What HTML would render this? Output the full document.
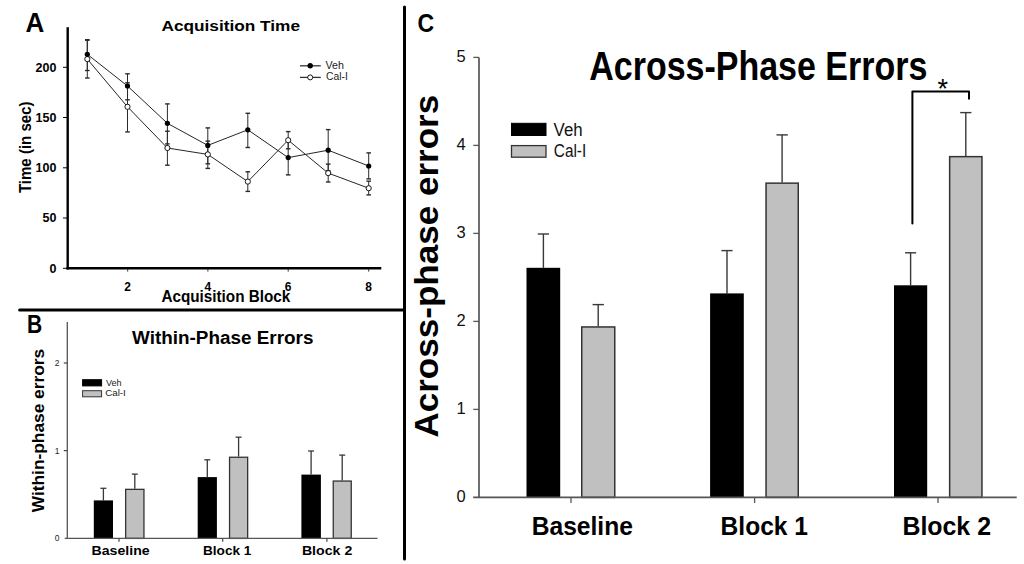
<!DOCTYPE html>
<html><head><meta charset="utf-8">
<style>
html,body{margin:0;padding:0;background:#fff;width:1024px;height:564px;overflow:hidden}
svg{display:block}
text{font-family:"Liberation Sans",sans-serif}
.b{font-weight:bold}
</style></head><body>
<svg width="1024" height="564" viewBox="0 0 1024 564">
<rect width="1024" height="564" fill="#fff"/>
<!-- dividers -->
<line x1="404.5" y1="7" x2="404.5" y2="559" stroke="#000" stroke-width="3" stroke-linecap="round"/>
<line x1="19.6" y1="310.1" x2="404" y2="310.1" stroke="#000" stroke-width="3" stroke-linecap="round"/>

<!-- ============ PANEL A ============ -->
<text x="25.4" y="31.8" class="b" font-size="27.5" textLength="18.8" lengthAdjust="spacingAndGlyphs">A</text>
<text x="161.5" y="30.8" class="b" font-size="14" textLength="138.5" lengthAdjust="spacingAndGlyphs">Acquisition Time</text>
<!-- axes -->
<line x1="67.7" y1="27.2" x2="67.7" y2="269.5" stroke="#000" stroke-width="2.4"/>
<line x1="66.5" y1="268.3" x2="381.3" y2="268.3" stroke="#000" stroke-width="2.4"/>
<g stroke="#000" stroke-width="1">
<line x1="63" y1="268.3" x2="67" y2="268.3"/>
<line x1="63" y1="218" x2="67" y2="218"/>
<line x1="63" y1="167.8" x2="67" y2="167.8"/>
<line x1="63" y1="117.5" x2="67" y2="117.5"/>
<line x1="63" y1="67.3" x2="67" y2="67.3"/>
<line x1="127.7" y1="269" x2="127.7" y2="271.6" stroke="#333"/>
<line x1="207.9" y1="269" x2="207.9" y2="271.6" stroke="#333"/>
<line x1="288.2" y1="269" x2="288.2" y2="271.6" stroke="#333"/>
<line x1="368.7" y1="269" x2="368.7" y2="271.6" stroke="#333"/>
</g>
<g class="b" font-size="12.5" text-anchor="end">
<text x="56.4" y="272.6">0</text>
<text x="56.4" y="222.3">50</text>
<text x="56.4" y="172.1">100</text>
<text x="56.4" y="121.8">150</text>
<text x="56.4" y="71.6">200</text>
</g>
<g class="b" font-size="12" text-anchor="middle">
<text x="127.7" y="290.8">2</text>
<text x="207.9" y="290.8">4</text>
<text x="288.2" y="290.8">6</text>
<text x="368.7" y="290.8">8</text>
</g>
<text x="161.4" y="301.8" class="b" font-size="16" textLength="128.9" lengthAdjust="spacingAndGlyphs">Acquisition Block</text>
<text transform="translate(30.7,193.1) rotate(-90)" class="b" font-size="16" textLength="91.6" lengthAdjust="spacingAndGlyphs">Time (in sec)</text>
<!-- error bars A -->
<g stroke="#2a2a2a" stroke-width="1" fill="none">
<line x1="87.3" y1="39.7" x2="87.3" y2="70.5"/>
<line x1="85.0" y1="39.7" x2="89.6" y2="39.7" stroke-width="1.4"/>
<line x1="85.0" y1="70.5" x2="89.6" y2="70.5" stroke-width="1.4"/>
<line x1="87.3" y1="40.2" x2="87.3" y2="78.0"/>
<line x1="85.0" y1="40.2" x2="89.6" y2="40.2" stroke-width="1.4"/>
<line x1="85.0" y1="78.0" x2="89.6" y2="78.0" stroke-width="1.4"/>
<line x1="127.5" y1="73.8" x2="127.5" y2="99.8"/>
<line x1="125.2" y1="73.8" x2="129.8" y2="73.8" stroke-width="1.4"/>
<line x1="125.2" y1="99.8" x2="129.8" y2="99.8" stroke-width="1.4"/>
<line x1="127.5" y1="82.8" x2="127.5" y2="131.9"/>
<line x1="125.2" y1="82.8" x2="129.8" y2="82.8" stroke-width="1.4"/>
<line x1="125.2" y1="131.9" x2="129.8" y2="131.9" stroke-width="1.4"/>
<line x1="167.4" y1="103.9" x2="167.4" y2="143.9"/>
<line x1="165.1" y1="103.9" x2="169.7" y2="103.9" stroke-width="1.4"/>
<line x1="165.1" y1="143.9" x2="169.7" y2="143.9" stroke-width="1.4"/>
<line x1="167.4" y1="131.2" x2="167.4" y2="165.2"/>
<line x1="165.1" y1="131.2" x2="169.7" y2="131.2" stroke-width="1.4"/>
<line x1="165.1" y1="165.2" x2="169.7" y2="165.2" stroke-width="1.4"/>
<line x1="207.8" y1="127.9" x2="207.8" y2="163.8"/>
<line x1="205.5" y1="127.9" x2="210.1" y2="127.9" stroke-width="1.4"/>
<line x1="205.5" y1="163.8" x2="210.1" y2="163.8" stroke-width="1.4"/>
<line x1="207.8" y1="141.1" x2="207.8" y2="168.4"/>
<line x1="205.5" y1="141.1" x2="210.1" y2="141.1" stroke-width="1.4"/>
<line x1="205.5" y1="168.4" x2="210.1" y2="168.4" stroke-width="1.4"/>
<line x1="247.8" y1="113.3" x2="247.8" y2="147.5"/>
<line x1="245.5" y1="113.3" x2="250.1" y2="113.3" stroke-width="1.4"/>
<line x1="245.5" y1="147.5" x2="250.1" y2="147.5" stroke-width="1.4"/>
<line x1="247.8" y1="171.8" x2="247.8" y2="191.4"/>
<line x1="245.5" y1="171.8" x2="250.1" y2="171.8" stroke-width="1.4"/>
<line x1="245.5" y1="191.4" x2="250.1" y2="191.4" stroke-width="1.4"/>
<line x1="288.2" y1="140.3" x2="288.2" y2="174.9"/>
<line x1="285.9" y1="140.3" x2="290.5" y2="140.3" stroke-width="1.4"/>
<line x1="285.9" y1="174.9" x2="290.5" y2="174.9" stroke-width="1.4"/>
<line x1="288.2" y1="131.6" x2="288.2" y2="148.8"/>
<line x1="285.9" y1="131.6" x2="290.5" y2="131.6" stroke-width="1.4"/>
<line x1="285.9" y1="148.8" x2="290.5" y2="148.8" stroke-width="1.4"/>
<line x1="328.2" y1="129.6" x2="328.2" y2="170.8"/>
<line x1="325.9" y1="129.6" x2="330.5" y2="129.6" stroke-width="1.4"/>
<line x1="325.9" y1="170.8" x2="330.5" y2="170.8" stroke-width="1.4"/>
<line x1="328.2" y1="164.1" x2="328.2" y2="182.0"/>
<line x1="325.9" y1="164.1" x2="330.5" y2="164.1" stroke-width="1.4"/>
<line x1="325.9" y1="182.0" x2="330.5" y2="182.0" stroke-width="1.4"/>
<line x1="368.7" y1="152.9" x2="368.7" y2="178.9"/>
<line x1="366.4" y1="152.9" x2="371.0" y2="152.9" stroke-width="1.4"/>
<line x1="366.4" y1="178.9" x2="371.0" y2="178.9" stroke-width="1.4"/>
<line x1="368.7" y1="181.2" x2="368.7" y2="194.9"/>
<line x1="366.4" y1="181.2" x2="371.0" y2="181.2" stroke-width="1.4"/>
<line x1="366.4" y1="194.9" x2="371.0" y2="194.9" stroke-width="1.4"/>
</g>
<!-- lines A -->
<polyline points="87.3,54.3 127.5,86.0 167.4,123.3 207.8,145.4 247.8,129.8 288.2,157.6 328.2,150.2 368.7,166.0" fill="none" stroke="#262626" stroke-width="1"/>
<polyline points="87.3,59.1 127.5,106.8 167.4,148.0 207.8,154.4 247.8,181.6 288.2,140.2 328.2,173.1 368.7,188.2" fill="none" stroke="#262626" stroke-width="1"/>
<g>
<circle cx="87.3" cy="59.1" r="2.6" fill="#fff" stroke="#000" stroke-width="0.9"/>
<circle cx="127.5" cy="106.8" r="2.6" fill="#fff" stroke="#000" stroke-width="0.9"/>
<circle cx="167.4" cy="148.0" r="2.6" fill="#fff" stroke="#000" stroke-width="0.9"/>
<circle cx="207.8" cy="154.4" r="2.6" fill="#fff" stroke="#000" stroke-width="0.9"/>
<circle cx="247.8" cy="181.6" r="2.6" fill="#fff" stroke="#000" stroke-width="0.9"/>
<circle cx="288.2" cy="140.2" r="2.6" fill="#fff" stroke="#000" stroke-width="0.9"/>
<circle cx="328.2" cy="173.1" r="2.6" fill="#fff" stroke="#000" stroke-width="0.9"/>
<circle cx="368.7" cy="188.2" r="2.6" fill="#fff" stroke="#000" stroke-width="0.9"/>
<circle cx="87.3" cy="54.3" r="2.6" fill="#000"/>
<circle cx="127.5" cy="86.0" r="2.6" fill="#000"/>
<circle cx="167.4" cy="123.3" r="2.6" fill="#000"/>
<circle cx="207.8" cy="145.4" r="2.6" fill="#000"/>
<circle cx="247.8" cy="129.8" r="2.6" fill="#000"/>
<circle cx="288.2" cy="157.6" r="2.6" fill="#000"/>
<circle cx="328.2" cy="150.2" r="2.6" fill="#000"/>
<circle cx="368.7" cy="166.0" r="2.6" fill="#000"/>
</g>
<!-- legend A -->
<line x1="300" y1="65.8" x2="320.8" y2="65.8" stroke="#333" stroke-width="1.3"/>
<line x1="300" y1="77.4" x2="320.8" y2="77.4" stroke="#333" stroke-width="1.3"/>
<circle cx="310.2" cy="65.8" r="2.7" fill="#000"/>
<circle cx="310.2" cy="77.4" r="2.5" fill="#fff" stroke="#000" stroke-width="0.9"/>
<text x="325.5" y="68.9" font-size="10" textLength="18.4" lengthAdjust="spacingAndGlyphs" fill="#222">Veh</text>
<text x="326" y="80.4" font-size="10" textLength="21.8" lengthAdjust="spacingAndGlyphs" fill="#222">Cal-I</text>

<!-- ============ PANEL B ============ -->
<text x="26.9" y="332.9" class="b" font-size="26" textLength="15.2" lengthAdjust="spacingAndGlyphs">B</text>
<text x="132.1" y="343.8" class="b" font-size="18" textLength="181.3" lengthAdjust="spacingAndGlyphs">Within-Phase Errors</text>
<text transform="translate(43.6,512.3) rotate(-90)" class="b" font-size="16" textLength="163.5" lengthAdjust="spacingAndGlyphs">Within-phase errors</text>
<g>
<line x1="103.4" y1="488.3" x2="103.4" y2="500.4" stroke="#383838" stroke-width="1.3"/>
<line x1="100.4" y1="488.3" x2="106.4" y2="488.3" stroke="#383838" stroke-width="1.3"/>
<rect x="93.8" y="500.4" width="19.2" height="38.0" fill="#000"/>
<line x1="134.8" y1="474.1" x2="134.8" y2="488.7" stroke="#383838" stroke-width="1.3"/>
<line x1="131.8" y1="474.1" x2="137.8" y2="474.1" stroke="#383838" stroke-width="1.3"/>
<rect x="125.65" y="489.35" width="18.30" height="49.05" fill="#c0c0c0" stroke="#333" stroke-width="1.3"/>
<line x1="207.3" y1="459.8" x2="207.3" y2="477.1" stroke="#383838" stroke-width="1.3"/>
<line x1="204.3" y1="459.8" x2="210.3" y2="459.8" stroke="#383838" stroke-width="1.3"/>
<rect x="197.7" y="477.1" width="19.2" height="61.3" fill="#000"/>
<line x1="238.6" y1="437.2" x2="238.6" y2="456.6" stroke="#383838" stroke-width="1.3"/>
<line x1="235.6" y1="437.2" x2="241.6" y2="437.2" stroke="#383838" stroke-width="1.3"/>
<rect x="229.55" y="457.25" width="18.10" height="81.15" fill="#c0c0c0" stroke="#333" stroke-width="1.3"/>
<line x1="311.1" y1="451.0" x2="311.1" y2="474.6" stroke="#383838" stroke-width="1.3"/>
<line x1="308.1" y1="451.0" x2="314.1" y2="451.0" stroke="#383838" stroke-width="1.3"/>
<rect x="301.4" y="474.6" width="19.5" height="63.8" fill="#000"/>
<line x1="342.2" y1="455.1" x2="342.2" y2="480.4" stroke="#383838" stroke-width="1.3"/>
<line x1="339.2" y1="455.1" x2="345.2" y2="455.1" stroke="#383838" stroke-width="1.3"/>
<rect x="333.25" y="481.05" width="18.00" height="57.35" fill="#c0c0c0" stroke="#333" stroke-width="1.3"/>
</g>
<line x1="67.3" y1="321.9" x2="67.3" y2="538.4" stroke="#555" stroke-width="1.3"/>
<line x1="64.7" y1="538.4" x2="377.5" y2="538.4" stroke="#555" stroke-width="1.3"/>
<g stroke="#444" stroke-width="1.2">
<line x1="63.8" y1="450.6" x2="67.3" y2="450.6"/>
<line x1="63.8" y1="363" x2="67.3" y2="363"/>
<line x1="119" y1="538.4" x2="119" y2="541.7"/>
<line x1="222.7" y1="538.4" x2="222.7" y2="541.7"/>
<line x1="326.9" y1="538.4" x2="326.9" y2="541.7"/>
</g>
<g font-size="8.5" text-anchor="end" fill="#223">
<text x="59.5" y="541.3">0</text>
<text x="59.5" y="453.6">1</text>
<text x="59.5" y="366">2</text>
</g>
<g class="b" font-size="13">
<text x="91.6" y="555.3" textLength="58" lengthAdjust="spacingAndGlyphs">Baseline</text>
<text x="203" y="555.3" textLength="48.4" lengthAdjust="spacingAndGlyphs">Block 1</text>
<text x="301.9" y="555.3" textLength="50.4" lengthAdjust="spacingAndGlyphs">Block 2</text>
</g>
<rect x="82.6" y="379.7" width="19" height="6.2" fill="#000" stroke="#000" stroke-width="1"/>
<rect x="82.6" y="390.7" width="19" height="6.1" fill="#c0c0c0" stroke="#333" stroke-width="1"/>
<text x="106" y="385.6" font-size="9" textLength="15.6" lengthAdjust="spacingAndGlyphs" fill="#222">Veh</text>
<text x="105.2" y="395.8" font-size="9" textLength="20.6" lengthAdjust="spacingAndGlyphs" fill="#222">Cal-I</text>

<!-- ============ PANEL C ============ -->
<text x="417.6" y="32.2" class="b" font-size="25.5" textLength="16.6" lengthAdjust="spacingAndGlyphs">C</text>
<text x="589.3" y="79.9" class="b" font-size="40" textLength="338" lengthAdjust="spacingAndGlyphs">Across-Phase Errors</text>
<text transform="translate(437.8,437.6) rotate(-90)" class="b" font-size="34" textLength="342.8" lengthAdjust="spacingAndGlyphs">Across-phase errors</text>
<g>
<line x1="543.4" y1="234.0" x2="543.4" y2="267.8" stroke="#383838" stroke-width="1.4"/>
<line x1="537.8" y1="234.0" x2="549.0" y2="234.0" stroke="#383838" stroke-width="1.4"/>
<rect x="526.5" y="267.8" width="33.7" height="229.6" fill="#000"/>
<line x1="598.2" y1="304.6" x2="598.2" y2="326.2" stroke="#383838" stroke-width="1.4"/>
<line x1="592.6" y1="304.6" x2="603.9" y2="304.6" stroke="#383838" stroke-width="1.4"/>
<rect x="581.75" y="326.95" width="33.00" height="170.45" fill="#c0c0c0" stroke="#333" stroke-width="1.5"/>
<line x1="727.0" y1="250.6" x2="727.0" y2="293.4" stroke="#383838" stroke-width="1.4"/>
<line x1="721.4" y1="250.6" x2="732.6" y2="250.6" stroke="#383838" stroke-width="1.4"/>
<rect x="710.1" y="293.4" width="33.7" height="204.0" fill="#000"/>
<line x1="782.1" y1="134.9" x2="782.1" y2="182.4" stroke="#383838" stroke-width="1.4"/>
<line x1="776.5" y1="134.9" x2="787.8" y2="134.9" stroke="#383838" stroke-width="1.4"/>
<rect x="766.05" y="183.15" width="32.20" height="314.25" fill="#c0c0c0" stroke="#333" stroke-width="1.5"/>
<line x1="910.6" y1="252.8" x2="910.6" y2="285.3" stroke="#383838" stroke-width="1.4"/>
<line x1="905.0" y1="252.8" x2="916.2" y2="252.8" stroke="#383838" stroke-width="1.4"/>
<rect x="894.0" y="285.3" width="33.2" height="212.1" fill="#000"/>
<line x1="965.8" y1="112.6" x2="965.8" y2="155.9" stroke="#383838" stroke-width="1.4"/>
<line x1="960.2" y1="112.6" x2="971.4" y2="112.6" stroke="#383838" stroke-width="1.4"/>
<rect x="949.65" y="156.65" width="32.30" height="340.75" fill="#c0c0c0" stroke="#333" stroke-width="1.5"/>
</g>
<line x1="479" y1="57.4" x2="479" y2="497.4" stroke="#555" stroke-width="1.7"/>
<line x1="473.2" y1="497.4" x2="1016.7" y2="497.4" stroke="#555" stroke-width="1.7"/>
<g stroke="#555" stroke-width="1.3">
<line x1="473.3" y1="409.4" x2="479" y2="409.4"/>
<line x1="473.3" y1="321.4" x2="479" y2="321.4"/>
<line x1="473.3" y1="233.4" x2="479" y2="233.4"/>
<line x1="473.3" y1="145.4" x2="479" y2="145.4"/>
<line x1="473.3" y1="57.4" x2="479" y2="57.4"/>
<line x1="571" y1="497.4" x2="571" y2="503"/>
<line x1="754.6" y1="497.4" x2="754.6" y2="503"/>
<line x1="938" y1="497.4" x2="938" y2="503"/>
</g>
<g font-size="16.5" text-anchor="end" fill="#111">
<text x="465.6" y="502.4">0</text>
<text x="465.6" y="414.4">1</text>
<text x="465.6" y="326.4">2</text>
<text x="465.6" y="238.4">3</text>
<text x="465.6" y="150.4">4</text>
<text x="465.6" y="62.4">5</text>
</g>
<g class="b" font-size="26">
<text x="531.7" y="535.3" textLength="101.2" lengthAdjust="spacingAndGlyphs">Baseline</text>
<text x="720.6" y="535.3" textLength="87.4" lengthAdjust="spacingAndGlyphs">Block 1</text>
<text x="902.4" y="535.3" textLength="88.6" lengthAdjust="spacingAndGlyphs">Block 2</text>
</g>
<rect x="511.5" y="123.3" width="34.5" height="12.2" fill="#000" stroke="#000" stroke-width="1"/>
<rect x="511.5" y="145.6" width="34.5" height="11.6" fill="#c0c0c0" stroke="#333" stroke-width="1.3"/>
<text x="553.6" y="135.5" font-size="17.5" textLength="29" lengthAdjust="spacingAndGlyphs" fill="#111">Veh</text>
<text x="553.8" y="156.8" font-size="17.5" textLength="32.4" lengthAdjust="spacingAndGlyphs" fill="#111">Cal-I</text>
<path d="M912.4,223.6 V91.6 H969 V98.7" fill="none" stroke="#000" stroke-width="2" stroke-linejoin="round" stroke-linecap="round"/>
<text x="942.8" y="98.1" font-size="27" text-anchor="middle">*</text>
</svg>
</body></html>
